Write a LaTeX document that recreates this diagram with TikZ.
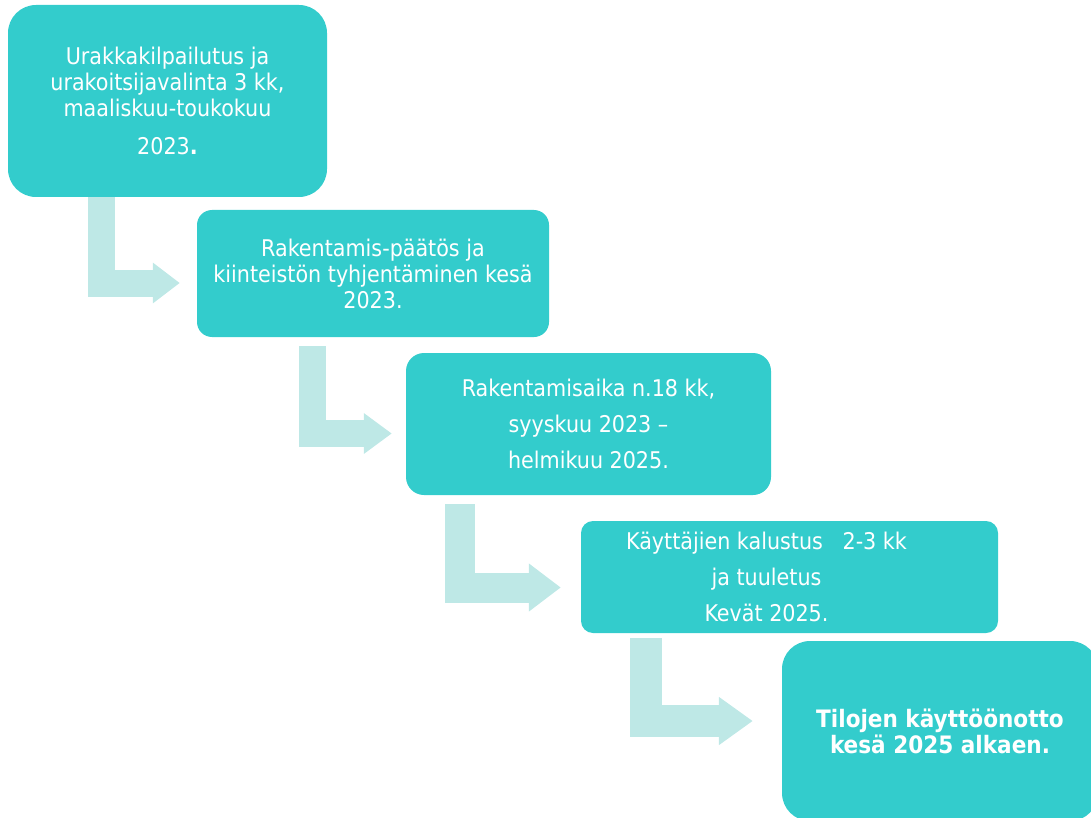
\documentclass[tikz,border=0pt]{standalone}
\usepackage{fontspec}
\setmainfont{DejaVu Sans Condensed}
\usetikzlibrary{arrows.meta}

\definecolor{stagecol}{RGB}{51,204,204}
\definecolor{flowcol}{RGB}{190,232,230}

\tikzset{
  stage/.style={fill=stagecol, text=white, align=center, inner sep=0pt,
    rounded corners=#1},
  stage/.default=15pt,
  flow/.style n args={3}{draw=flowcol, line width=#1, line join=miter,
    -{Triangle[width=#2, length=#3]}},
}

\begin{document}
\begin{tikzpicture}[x=1pt, y=-1pt]
  \clip (0,0) rectangle (1091,818);

  % stages
  \node[stage=28pt, minimum width=319pt, minimum height=192pt,
        font=\fontsize{23}{26}\selectfont] (b1) at (167.5,101)
    {Urakkakilpailutus ja\\ urakoitsijavalinta 3 kk,\\ maaliskuu-toukokuu\\[12pt]
     2023{\bfseries.}};
  \node[stage=15pt, minimum width=352pt, minimum height=127pt,
        font=\fontsize{23}{26}\selectfont] (b2) at (373,273.5)
    {Rakentamis-päätös ja\\ kiinteistön tyhjentäminen kesä\\ 2023.};
  \node[stage=18pt, minimum width=365pt, minimum height=142pt,
        font=\fontsize{23}{36}\selectfont] (b3) at (588.5,424)
    {Rakentamisaika n.18 kk,\\ syyskuu 2023 --\\ helmikuu 2025.};
  \node[stage=12pt, minimum width=417pt, minimum height=112pt,
        label={[text=white, align=center, xshift=-23pt,
                font=\fontsize{23}{36}\selectfont]center:Käyttäjien kalustus\ \ \ 2-3 kk\\ ja tuuletus\\ Kevät 2025.}]
    (b4) at (789.5,577) {};
  \node[stage=28pt, minimum width=316pt, minimum height=180pt,
        font=\fontsize{24}{26}\bfseries] (b5) at (940,731)
    {Tilojen käyttöönotto\\ kesä 2025 alkaen.};

  % bent arrows
  \draw[flow={27pt}{39pt}{27pt}] ([xshift=93.5pt]b1.south west)
    |- ([xshift=-17pt, yshift=-9.5pt]b2.west);
  \draw[flow={27pt}{39pt}{28pt}] ([xshift=115.5pt, yshift=-9pt]b2.south west)
    |- ([xshift=-14pt, yshift=-9.5pt]b3.west);
  \draw[flow={30pt}{46pt}{32pt}] ([xshift=54.5pt, yshift=-9pt]b3.south west)
    |- ([xshift=-20pt, yshift=-10.5pt]b4.west);
  \draw[flow={32pt}{46pt}{34pt}] ([xshift=65pt, yshift=-5pt]b4.south west)
    |- ([xshift=-29pt, yshift=10pt]b5.west);
\end{tikzpicture}
\end{document}
